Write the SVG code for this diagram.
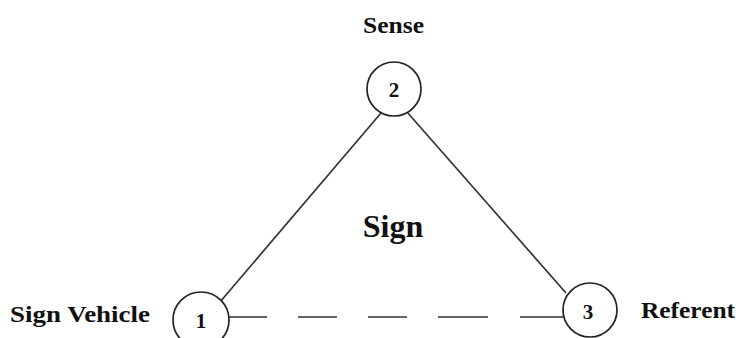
<svg xmlns="http://www.w3.org/2000/svg" width="740" height="338" viewBox="0 0 740 338">
<style>
.lbl{font-family:"Liberation Serif","Times New Roman",serif;font-weight:bold;fill:#111;}
.node circle{fill:#fff;stroke:#222;stroke-width:1.7;}
.num{font-family:"Liberation Serif","Times New Roman",serif;font-weight:bold;font-size:21px;fill:#111;text-anchor:middle;}
.edge{stroke:#333;stroke-width:1.7;fill:none;}
</style>
<rect width="740" height="338" fill="#fff"/>
<g id="connectors">
<line class="edge" x1="381" y1="113" x2="220" y2="302"/>
<line class="edge" x1="407" y1="112" x2="566" y2="293"/>
<line class="edge" x1="229" y1="317" x2="563" y2="317" stroke-dasharray="38 31 39 31 39 31 50 32 43"/>
</g>
<g id="node2" class="node">
<circle cx="394" cy="89" r="27"/>
<text class="num" x="394" y="97">2</text>
</g>
<g id="node1" class="node">
<circle cx="201" cy="320" r="28"/>
<text class="num" x="201" y="328">1</text>
</g>
<g id="node3" class="node">
<circle cx="590" cy="310" r="27"/>
<text class="num" x="588" y="319">3</text>
</g>
<text class="lbl" x="363" y="33" font-size="24" textLength="61" lengthAdjust="spacingAndGlyphs">Sense</text>
<text class="lbl" x="393" y="237" font-size="32" text-anchor="middle">Sign</text>
<text class="lbl" x="10" y="322" font-size="24" textLength="140" lengthAdjust="spacingAndGlyphs">Sign Vehicle</text>
<text class="lbl" x="641" y="318" font-size="24" textLength="94" lengthAdjust="spacingAndGlyphs">Referent</text>
</svg>
